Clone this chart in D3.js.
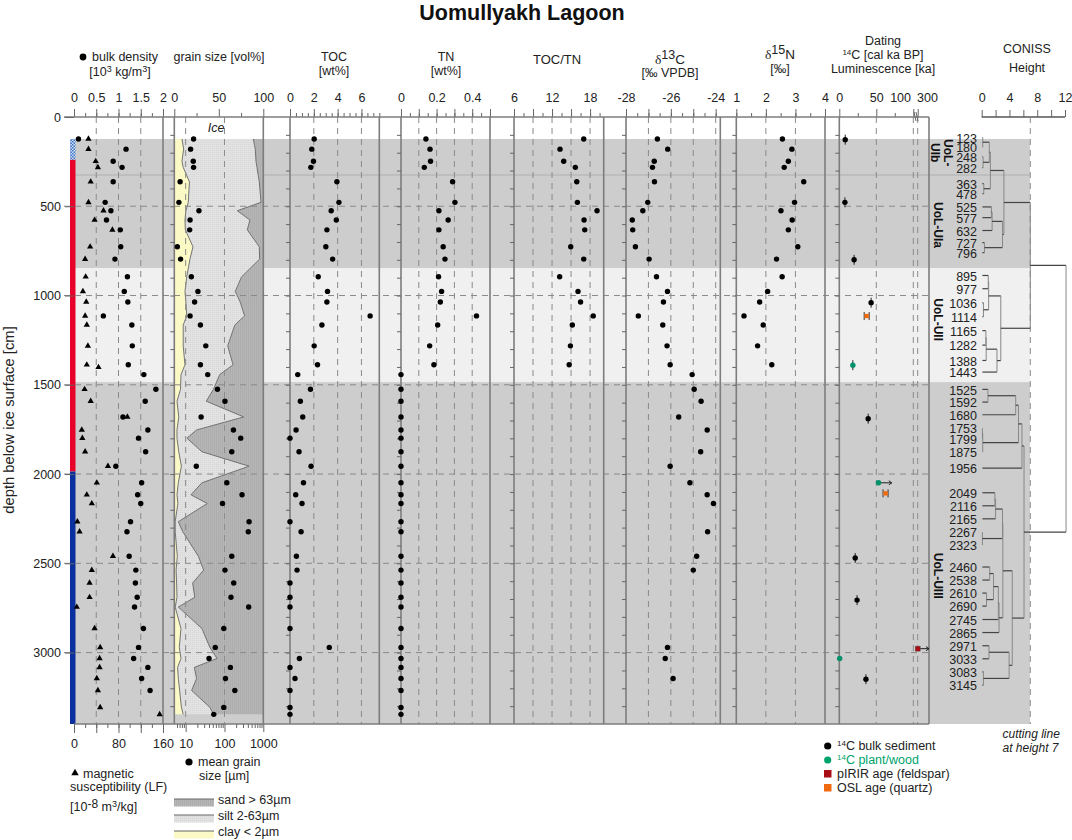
<!DOCTYPE html>
<html>
<head>
<meta charset="utf-8">
<script src="https://cdn.jsdelivr.net/npm/d3@7/dist/d3.min.js"></script>
<style>
  html, body { margin: 0; padding: 0; background: #fff; }
  svg { display: block; font-family: "Liberation Sans", Arial, sans-serif; fill: #222; }
  .axis text { font-size: 12.5px; fill: #222; }
  .axis line { stroke: #666; stroke-width: 1; }
  .axis path { display: none; }
  .dash { stroke: #8a8a8a; stroke-width: 1; stroke-dasharray: 6 5; fill: none; }
  .frame { stroke: #7d7d7d; stroke-width: 1.6; fill: none; }
  .tree { stroke: #444; stroke-width: 1.2; fill: none; }
  .treev { stroke: #888; stroke-width: 1; fill: none; }
</style>
</head>
<body>
<div id="chart"></div>
<script>
// sample depths, cm below ice surface (same order for all proxy lists)
const sampleDepths = [123,180,248,282,363,478,525,577,632,727,796,895,977,1036,1114,1165,1282,1388,1443,1525,1592,1680,1753,1799,1875,1956,2049,2116,2165,2267,2323,2460,2538,2610,2690,2745,2865,2971,3033,3083,3145,3212,3307,3346];

const bulkDensity = [0.10,1.17,0.88,1.08,0.88,0.70,0.83,0.73,1.04,1.05,0.92,1.20,1.13,1.21,0.66,1.30,1.31,1.22,1.57,1.84,1.60,1.10,1.66,1.45,1.61,0.94,1.52,1.43,1.50,1.27,1.19,1.24,1.39,1.38,1.42,1.36,1.56,1.45,1.34,1.66,1.52,1.71,null,null];
const magSuscDepths = [123,180,248,282,363,478,525,577,632,727,796,895,977,1036,1114,1165,1282,1388,1402,1525,1592,1680,1753,1799,1875,1956,2049,2116,2165,2267,2323,2460,2538,2610,2690,2745,2865,2971,3033,3083,3145,3212,3307,3346];
const magSusc = [26,26,39,43,30,26,53,37,69,29,20,21,16,22,20,23,25,23,44,19,30,96,14,15,20,61,41,23,32,6,10,70,32,28,28,5,37,47,46,46,41,43,47,154];

const meanGrain = [16,13.4,15.7,16,7.2,6.7,22,13,12.7,6.1,7.4,14,20.7,17,13,24,33,24,37,66,103,25,170,262,154,18.8,115,283,89,430,410,154,103,173,147,420,96,58,40,142,106,185,96,53];
const clayPct = [8.6,10.5,8.6,10,17,15.7,13,12,12.4,21,17.6,14,12,13,14,10,10,12,7.5,7,3,5,3,3,5,8,4.5,3,4,1,1,3.4,2,2.6,3,1,7.5,5.6,7.5,3.7,4.5,6,8,10];
const clayPlusSiltPct = [88.8,91,91.8,92.9,95.5,97.4,70.8,85,82,95.5,95.9,75.6,68.5,74,79,68,60,66,51,44,35.9,78,25,14.2,31,84,31,18.7,37,4.5,9.5,27,33,20.6,23,4.5,31,40,48,22.5,25,19.5,40,44];

const toc = [2.03,1.83,1.97,1.75,3.94,4.11,3.46,3.89,3.10,3.01,3.58,2.37,3.15,3.10,6.73,2.68,2.03,2.31,0.65,1.72,0.87,1.07,0.51,0,0.76,1.77,1.13,0.48,1.01,0,0.93,0.54,0.59,0,0,0,0,3.30,0.79,0,0.42,0,0,0];
const tn = [0.14,0.163,0.166,0.131,0.29,0.303,0.213,0.265,0.213,0.237,0.247,0.211,0.228,0.221,0.424,0.206,0.161,0.185,0,0,0,0,0,0,0,0,0,0,0,0,0,0,0,0,0,0,0,0,0,0,0,0,0,0];
const tocTn = [17,13.26,13.84,15.68,15.9,16,19.1,17.05,17.16,14.95,17,13.2,16.1,16.5,18.5,15.2,14.9,14.7];
const d13C = [-26.6,-26.14,-26.74,-26.82,-26.73,-27.03,-27.25,-27.72,-27.7,-27.58,-26.97,-26.64,-26.15,-26.33,-27.45,-26.36,-26.17,-26.03,-25.05,-24.96,-24.65,-25.65,-24.38,null,-24.67,-26.03,-25.15,-24.38,-24.1,null,-24.36,-24.85,-25,null,null,null,null,-26.15,-26.25,null,-25.9,null,null,null];
const d15N = [2.56,2.88,2.76,2.62,3.28,2.97,2.51,2.89,2.76,3.08,2.36,2.55,2.06,1.79,1.26,1.91,1.72,2.20];

// dating: depth cm, age ka
const bulkAgeDepths = [127,478,800,1040,1690,2470,2706,3149];
const bulkAges = [8,7.6,20,43,39,21.5,24,36];
const plantAgeDepths = [1390,2049,3033];
const plantAges = [18.3,53,0.5];
const plantMinAges = [null,71,null];
const oslAgeDepths = [1115,2108];
const oslAges = [37,62.5];
const pirirAgeDepths = [2978];
const pirirAges = [300];

const coniisLabels = [123,180,248,282,363,478,525,577,632,727,796,895,977,1036,1114,1165,1282,1388,1443,1525,1592,1680,1753,1799,1875,1956,2049,2116,2165,2267,2323,2460,2538,2610,2690,2745,2865,2971,3033,3083,3145];
// labels are spread out, so their row does not equal their depth
const coniisRows = [122,175,231,291,381,437,511,571,643,711,767,895,969,1048,1126,1204,1285,1371,1436,1533,1604,1675,1750,1810,1882,1974,2112,2185,2258,2332,2405,2528,2601,2674,2747,2822,2895,2969,3042,3115,3189];
// [height, child, child]; a bare number is a leaf
const coniisTree = [12.15,
  [7,
    [3.2,
      [1.25, [1.1, [0.15,123,180], [0.2,248,282]], [0.3,363,478]],
      [3.0, [1.5, [1.4,525,577], 632], [0.4,727,796]]],
    [2.75,
      [1.0, [0.95,895,977], [0.25,1036,1114]],
      [2.2, [0.65, [0.6,1165,1282], 1388], 1443]]],
  [6.1,
    [5.8, [5.3, [4.9, [0.9,1525,1592], 1680], [0.15, [0.1,1753,1799], 1875]], 1956],
    [4.4,
      [3.05,
        [3.0, [2.0, [1.9,2049,2116], 2165], [0.1,2267,2323]],
        [2.5, [2.4, [1.7, [1.15,2460,2538], [0.7,2610,2690]], 2745], 2865]],
      [3.95, [1.05,2971,3033], [0.25,3083,3145]]]]];

const zoneLabels = [["UoL-","UIb"],["UoL-UIa"],["UoL-UII"],["UoL-UIII"]];
const zoneRows = [200,605,1135,2570];
const depthTicks = [0,500,1000,1500,2000,2500,3000];

const W = 1072, H = 840;
const svg = d3.select("#chart").append("svg").attr("width", W).attr("height", H).attr("viewBox", `0 0 ${W} ${H}`);
const y = d3.scaleLinear().domain([0, 3400]).range([117, 724]);
const top0 = y(0), bot = y(3400);

const defs = svg.append("defs");
const sand = defs.append("pattern").attr("id","sand").attr("width",2).attr("height",2).attr("patternUnits","userSpaceOnUse");
sand.append("rect").attr("width",2).attr("height",2).attr("fill","#b6b6b6");
sand.append("rect").attr("width",1).attr("height",2).attr("fill","#adadad");
const silt = defs.append("pattern").attr("id","silt").attr("width",2).attr("height",2).attr("patternUnits","userSpaceOnUse");
silt.append("rect").attr("width",2).attr("height",2).attr("fill","#e2e2e2");
silt.append("rect").attr("width",1).attr("height",1).attr("fill","#d6d6d6");
const check = defs.append("pattern").attr("id","check").attr("width",3).attr("height",3).attr("patternUnits","userSpaceOnUse");
check.append("rect").attr("width",3).attr("height",3).attr("fill","#cfe0f5");
check.append("rect").attr("width",1.5).attr("height",1.5).attr("fill","#3f73c8");
check.append("rect").attr("x",1.5).attr("y",1.5).attr("width",1.5).attr("height",1.5).attr("fill","#3f73c8");

// zone bands, full width of the plot
const bands = [[123,846,"#cdcdcd"],[846,1485,"#f0f0f0"],[1485,3400,"#cdcdcd"]];
svg.selectAll("rect.band").data(bands).enter().append("rect").attr("class","band")
  .attr("x",74).attr("width",1030-74).attr("y",d=>y(d[0])).attr("height",d=>y(d[1])-y(d[0])).attr("fill",d=>d[2]);
svg.append("line").attr("x1",74).attr("x2",1030).attr("y1",y(325)).attr("y2",y(325)).attr("stroke","#b0b0b0").attr("stroke-width",1.2);

// core recovery bar
svg.append("rect").attr("x",70).attr("width",5.5).attr("y",y(123)).attr("height",y(240)-y(123)).attr("fill","url(#check)");
svg.append("rect").attr("x",70).attr("width",5.5).attr("y",y(240)).attr("height",y(1986)-y(240)).attr("fill","#e8002a");
svg.append("rect").attr("x",70).attr("width",5.5).attr("y",y(1986)).attr("height",y(3400)-y(1986)).attr("fill","#0a2f9e");

// grain size stacks
const grainX = d3.scaleLinear().domain([0,100]).range([174.3,263.3]);
const grainRows = sampleDepths.map((d,i)=>({d, clay:clayPct[i], top:clayPlusSiltPct[i]}));
const stack = (x0,x1,fill) => svg.append("path").datum(grainRows).attr("fill",fill).attr("stroke","none")
  .attr("d", d3.area().y(r=>y(r.d)).x0(r=>grainX(x0(r))).x1(r=>grainX(x1(r))));
stack(r=>r.top, ()=>100, "url(#sand)");
stack(r=>r.clay, r=>r.top, "url(#silt)");
stack(()=>0, r=>r.clay, "#fbf9c6");
[r=>r.clay, r=>r.top].forEach(f => svg.append("path").datum(grainRows).attr("fill","none").attr("stroke","#666").attr("stroke-width",0.9)
  .attr("d", d3.line().y(r=>y(r.d)).x(r=>grainX(f(r)))));

// panels
const range = (a,b,s) => d3.range(a,b+s/1000,s);
const panels = [
  {scale:d3.scaleLinear().domain([0,2]).range([74,163]), major:[0,0.5,1,1.5,2], minor:range(0,2,0.25), dash:[0.5,1,1.5], labels:[0,0.5,1,1.5,2]},
  {scale:grainX, major:[0,50,100], minor:[25,75], dash:[], labels:[0,50,100]},
  {scale:d3.scaleLinear().domain([0,7.5]).range([290,379.3]), major:[0,2,4,6], minor:range(0,7.5,0.5), dash:[2,4,6], labels:[0,2,4,6]},
  {scale:d3.scaleLinear().domain([0,0.5]).range([401,490]), major:[0,0.1,0.2,0.3,0.4,0.5], minor:range(0,0.5,0.05), dash:[0.1,0.2,0.3,0.4], labels:[0,0.2,0.4]},
  {scale:d3.scaleLinear().domain([6,20.15]).range([514,603.7]), major:[6,9,12,15,18], minor:range(6,19.5,1.5), dash:[9,12,15,18], labels:[6,12,18]},
  {scale:d3.scaleLinear().domain([-28,-24]).range([626,715.7]), major:[-28,-27,-26,-25,-24], minor:range(-28,-24,0.5), dash:[-27,-26,-25,-24], labels:[-28,-26,-24], end:720.3},
  {scale:d3.scaleLinear().domain([1,4]).range([736.3,825]), major:[1,2,3,4], minor:range(1,4,0.5), dash:[2,3], labels:[1,2,3,4]},
  {scale:d3.scaleLinear().domain([0,100,300,350]).range([839.3,913.3,917.7,929]), major:[0,50,100,300], minor:[25,75], dash:[50,100,300], labels:[0,50]}
];

// horizontal dashed depth grid and frame lines
svg.selectAll("line.hd").data(depthTicks.slice(1)).enter().append("line").attr("class","dash")
  .attr("x1",64).attr("x2",929).attr("y1",d=>y(d)).attr("y2",d=>y(d));
panels.forEach((p,i)=>{
  const r = p.scale.range();
  const x0 = r[0], x1 = p.end || r[r.length-1];
  p.dash.forEach(v=>svg.append("line").attr("class","dash").attr("x1",p.scale(v)).attr("x2",p.scale(v)).attr("y1",top0).attr("y2",bot));
  svg.append("line").attr("class","frame").attr("x1",x1).attr("x2",x1).attr("y1",top0).attr("y2",bot);
  if (i>0) svg.append("line").attr("class","frame").attr("x1",x0).attr("x2",x0).attr("y1",top0).attr("y2",bot);
  // top ticks
  svg.append("g").attr("class","axis").attr("transform",`translate(0,${top0})`)
    .call(d3.axisTop(p.scale).tickValues(p.minor).tickSize(4).tickFormat(""));
  svg.append("g").attr("class","axis").attr("transform",`translate(0,${top0})`)
    .call(d3.axisTop(p.scale).tickValues(p.major).tickSize(8).tickPadding(7).tickFormat(d=>p.labels.includes(d)?String(d):""));
  // left depth ticks
  if (i>0) {
    svg.append("g").attr("class","axis").attr("transform",`translate(${x0},0)`)
      .call(d3.axisLeft(y).tickValues(range(100,3300,100)).tickSize(4).tickFormat(""));
  }
});
// dashed log guides in the grain panel
const grainLog = d3.scaleLog().domain([5.1,1000]).range([174.3,263.3]);
[10,100].forEach(v=>svg.append("line").attr("class","dash").attr("x1",grainLog(v)).attr("x2",grainLog(v)).attr("y1",top0).attr("y2",bot));

svg.append("line").attr("class","frame").attr("x1",64).attr("x2",929).attr("y1",top0).attr("y2",top0);
svg.append("line").attr("class","frame").attr("x1",74).attr("x2",929).attr("y1",bot).attr("y2",bot);
svg.append("g").attr("class","axis").attr("transform","translate(74,0)")
  .call(d3.axisLeft(y).tickValues(depthTicks).tickSize(9).tickPadding(4).tickFormat(d3.format("d")));

// axis break on the dating scale
svg.append("path").attr("d","M914 112 L916 121 M916 112 L918 121").attr("stroke","#666").attr("fill","none");

// bottom axes
const msX = d3.scaleLinear().domain([0,160]).range([74,163]);
svg.append("g").attr("class","axis").attr("transform",`translate(0,${bot})`)
  .call(d3.axisBottom(msX).tickValues(range(0,160,20)).tickSize(4).tickFormat(""));
svg.append("g").attr("class","axis").attr("transform",`translate(0,${bot})`)
  .call(d3.axisBottom(msX).tickValues([0,40,80,120,160]).tickSize(9).tickPadding(6).tickFormat(d=>d%80===0?d:""));
svg.append("g").attr("class","axis").attr("transform",`translate(0,${bot})`)
  .call(d3.axisBottom(grainLog).tickValues([6,7,8,9,20,30,40,50,60,70,80,90,200,300,400,500,600,700,800,900]).tickSize(4).tickFormat(""));
svg.append("g").attr("class","axis").attr("transform",`translate(0,${bot})`)
  .call(d3.axisBottom(grainLog).tickValues([10,100,1000]).tickSize(8).tickPadding(7).tickFormat(d=>d));

// points
const dots = (depths, vals, scale, r=2.7, fill="#000") => {
  const rows = depths.map((d,i)=>({d,v:vals[i]})).filter(o=>o.v!==null && o.v!==undefined);
  svg.append("g").selectAll("circle").data(rows).enter().append("circle")
    .attr("cx",o=>scale(o.v)).attr("cy",o=>y(o.d)).attr("r",r).attr("fill",fill);
};
const tri = d3.symbol().type(d3.symbolTriangle).size(17);
svg.append("g").selectAll("path").data(magSuscDepths.map((d,i)=>({d,v:magSusc[i]}))).enter().append("path")
  .attr("d",tri).attr("fill","#000").attr("transform",o=>`translate(${msX(o.v)},${y(o.d)})`);
dots(sampleDepths,bulkDensity,panels[0].scale);
dots(sampleDepths,meanGrain,grainLog);
dots(sampleDepths,toc,panels[2].scale);
dots(sampleDepths,tn,panels[3].scale);
dots(sampleDepths,tocTn,panels[4].scale);
dots(sampleDepths,d13C,panels[5].scale);
dots(sampleDepths,d15N,panels[6].scale);

// dating
const dateX = panels[7].scale;
const vbar = (d,a) => svg.append("line").attr("x1",dateX(a)).attr("x2",dateX(a)).attr("y1",y(d-28)).attr("y2",y(d+28)).attr("stroke","#222").attr("stroke-width",1);
bulkAgeDepths.forEach((d,i)=>vbar(d,bulkAges[i]));
plantAgeDepths.forEach((d,i)=>{
  if (plantMinAges[i]) {
    const x2 = dateX(plantMinAges[i]);
    svg.append("path").attr("d",`M${dateX(plantAges[i])} ${y(d)} H${x2} m-3 -2 l3 2 l-3 2`).attr("stroke","#222").attr("fill","none");
  } else if (i===0) vbar(d,plantAges[i]);
});
dots(bulkAgeDepths,bulkAges,dateX);
dots(plantAgeDepths,plantAges,dateX,2.7,"#00906a");
oslAgeDepths.forEach((d,i)=>{
  const x = dateX(oslAges[i]);
  [-2.5,2.5].forEach(o=>svg.append("line").attr("x1",x+o).attr("x2",x+o).attr("y1",y(d)-4).attr("y2",y(d)+4).attr("stroke","#333"));
  svg.append("rect").attr("x",x-2.2).attr("y",y(d)-2.2).attr("width",4.4).attr("height",4.4).attr("fill","#f26a10");
});
pirirAgeDepths.forEach((d,i)=>{
  const x = dateX(pirirAges[i]);
  svg.append("path").attr("d",`M${x} ${y(d)} H929 m-3 -2 l3 2 l-3 2`).attr("stroke","#222").attr("fill","none");
  svg.append("rect").attr("x",x-2.5).attr("y",y(d)-2.5).attr("width",5).attr("height",5).attr("fill","#a80e14").attr("stroke","#555").attr("stroke-width",.4);
});

// CONISS
const hX = d3.scaleLinear().domain([0,12]).range([981.7,1065]);
svg.append("g").attr("class","axis").attr("transform",`translate(0,${top0})`)
  .call(d3.axisTop(hX).tickValues([0,2,4,6,8,10,12]).tickSize(7).tickPadding(8).tickFormat(d=>d%4===0?d:""));
svg.append("line").attr("x1",hX(0)).attr("x2",hX(12)).attr("y1",top0).attr("y2",top0).attr("stroke","#555").attr("stroke-width",1.3);
svg.append("line").attr("class","dash").attr("x1",hX(7)).attr("x2",hX(7)).attr("y1",top0).attr("y2",bot);

const rowOf = new Map(coniisLabels.map((l,i)=>[l,coniisRows[i]]));
const treeG = svg.append("g");
function drawTree(node, parentH) {
  let ny, h;
  if (typeof node === "number") {
    ny = y(rowOf.get(node)) - 1.3; h = 0.1;
  } else {
    h = node[0];
    const a = drawTree(node[1], h), b = drawTree(node[2], h);
    ny = (a + b) / 2;
    treeG.append("line").attr("class","treev").attr("x1",hX(h)).attr("x2",hX(h)).attr("y1",a).attr("y2",b);
  }
  if (parentH !== undefined) treeG.append("line").attr("class","tree").attr("x1",hX(h)).attr("x2",hX(parentH)).attr("y1",ny).attr("y2",ny);
  return ny;
}
drawTree(coniisTree);
svg.append("g").selectAll("text").data(coniisLabels).enter().append("text")
  .attr("x",977).attr("y",d=>y(rowOf.get(d))).attr("text-anchor","end").attr("dominant-baseline","central")
  .attr("font-size",12.5).text(d=>d);

// zone labels
zoneLabels.forEach((lines,i)=>{
  const cy = y(zoneRows[i]);
  lines.forEach((t,k)=>{
    const x = lines.length>1 ? (k===0?948:935) : 938;
    svg.append("text").attr("transform",`translate(${x-4},${cy}) rotate(90)`).attr("text-anchor","middle")
      .attr("font-weight","bold").attr("font-size",12).attr("fill","#111").text(t);
  });
});

// text helper; parts are strings or {t, sup, serif}
function label(x, yy, parts, o={}) {
  const t = svg.append("text").attr("x",x).attr("y",yy).attr("font-size",o.size||12.5)
    .attr("text-anchor",o.anchor||"middle").attr("fill",o.fill||"#222");
  if (o.italic) t.attr("font-style","italic");
  if (o.bold) t.attr("font-weight","bold");
  let lift = 0;
  [].concat(parts).forEach(p=>{
    const s = t.append("tspan");
    if (typeof p === "string") { s.text(p).attr("dy",lift); lift = 0; return; }
    const want = p.sup ? (p.rise||4) : 0;
    s.text(p.t).attr("dy",lift-want);
    if (p.sup) s.attr("font-size",p.size||9);
    if (p.serif) s.attr("font-family","'Liberation Serif', serif");
    lift = want;
  });
  return t;
}

// dating scale labels sit either side of the break
label(911,101.5,"100",{anchor:"end"});
label(917,101.5,"300",{anchor:"start"});

label(522,19.5,"Uomullyakh Lagoon",{size:21.5,bold:true,fill:"#111"});
svg.append("circle").attr("cx",83).attr("cy",57).attr("r",3.4).attr("fill","#000");
label(92,61,"bulk density",{anchor:"start"});
label(120,76,["[10",{t:"3",sup:1}," kg/m",{t:"3",sup:1},"]"]);
label(219,61,"grain size [vol%]");
label(334,61,"TOC"); label(334,75,"[wt%]");
label(446,61,"TN"); label(446,75,"[wt%]");
label(557,64,"TOC/TN",{size:13});
label(670,64,[{t:"δ",serif:1},{t:"13",sup:1,size:12.5,rise:5},"C"],{size:13.5});
label(670,77,"[‰ VPDB]");
label(780,59,[{t:"δ",serif:1},{t:"15",sup:1,size:12.5,rise:5},"N"],{size:13.5});
label(780,73,"[‰]");
label(883,45,"Dating");
label(883,59,[{t:"14",sup:1,size:8},"C [cal ka BP]"]);
label(883,73,"Luminescence [ka]");
label(1027,53,"CONISS");
label(1027,72,"Height");

svg.append("text").attr("transform","translate(14,420) rotate(-90)").attr("text-anchor","middle").attr("font-size",14.8).attr("fill","#222").text("depth below ice surface [cm]");

// lower left legends
svg.append("path").attr("d",d3.symbol().type(d3.symbolTriangle).size(24)).attr("fill","#000").attr("transform","translate(75,773)");
label(83,778,"magnetic",{anchor:"start"});
label(70,791,"susceptibility (LF)",{anchor:"start"});
label(70,811,["[10",{t:"-8",sup:1,size:12,rise:3}," m",{t:"3",sup:1},"/kg]"],{anchor:"start"});
svg.append("circle").attr("cx",189).attr("cy",762).attr("r",3.6).attr("fill","#000");
label(198,766,"mean grain",{anchor:"start"});
label(199,780,"size [µm]",{anchor:"start"});
[["url(#sand)","sand > 63µm",799],["url(#silt)","silt 2-63µm",815],["#fbf9c6","clay < 2µm",831]].forEach(r=>{
  svg.append("rect").attr("x",174).attr("width",40).attr("y",r[2]).attr("height",7.5).attr("fill",r[0]);
  svg.append("line").attr("x1",174).attr("x2",214).attr("y1",r[2]).attr("y2",r[2]).attr("stroke","#666");
  label(218,r[2]+5,r[1],{anchor:"start"});
});

// dating legend
svg.append("circle").attr("cx",827.7).attr("cy",746).attr("r",3.6).attr("fill","#000");
svg.append("circle").attr("cx",827.7).attr("cy",760).attr("r",3.6).attr("fill","#00a36c");
svg.append("rect").attr("x",824).attr("y",770).attr("width",7.5).attr("height",7.5).attr("fill","#a80e14");
svg.append("rect").attr("x",824).attr("y",784).attr("width",7.5).attr("height",7.5).attr("fill","#f26a10");
label(837,750,[{t:"14",sup:1,size:8},"C bulk sediment"],{anchor:"start"});
label(837,764,[{t:"14",sup:1,size:8},"C plant/wood"],{anchor:"start",fill:"#00a36c"});
label(837,778,"pIRIR age (feldspar)",{anchor:"start"});
label(837,792,"OSL age (quartz)",{anchor:"start"});

label(1002.5,738,"cutting line",{anchor:"start",italic:true,size:12});
label(1002.5,752,"at height 7",{anchor:"start",italic:true,size:12});
label(216,132,"Ice",{italic:true});
</script>
</body>
</html>
